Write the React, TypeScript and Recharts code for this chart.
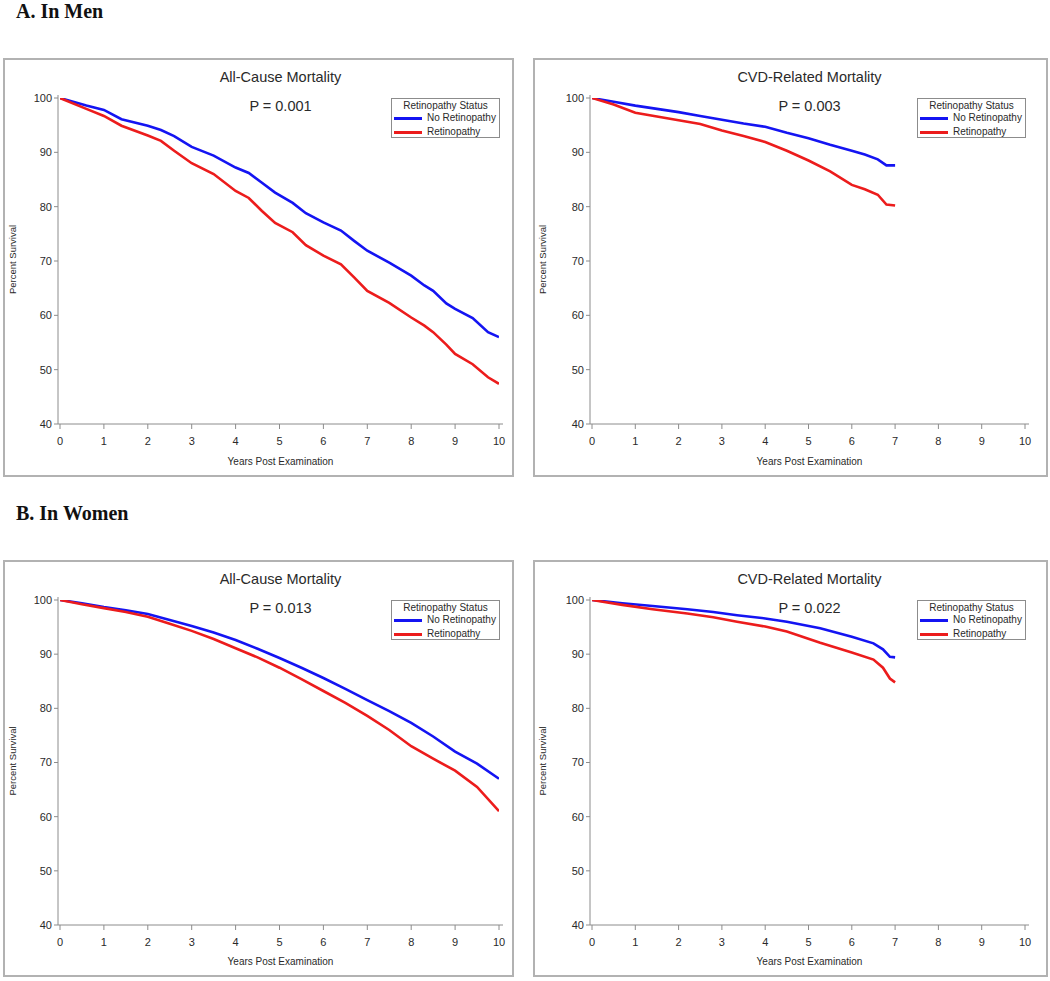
import React from 'react';
import { LineChart, Line, XAxis, YAxis } from 'recharts';

// ---------- data ----------
const xTicks = [0, 1, 2, 3, 4, 5, 6, 7, 8, 9, 10];
const yTicks = [40, 50, 60, 70, 80, 90, 100];

// A. Men – All-Cause Mortality
const menAllYears = [0, 0.6, 1, 1.4, 2, 2.3, 2.6, 3, 3.5, 4, 4.3, 4.6, 4.9, 5.3, 5.6, 6, 6.4, 6.7, 7, 7.5, 8, 8.3, 8.5, 8.8, 9, 9.4, 9.75, 10];
const menAllNoRet = [100, 98.6, 97.8, 96.1, 94.9, 94.1, 93.0, 91.0, 89.4, 87.2, 86.2, 84.4, 82.6, 80.7, 78.8, 77.1, 75.6, 73.7, 71.9, 69.7, 67.3, 65.5, 64.5, 62.2, 61.2, 59.5, 56.9, 56.0];
const menAllRet = [100, 98.0, 96.7, 94.9, 93.1, 92.1, 90.3, 88.0, 86.0, 82.9, 81.6, 79.2, 77.0, 75.3, 72.9, 71.0, 69.4, 67.0, 64.5, 62.3, 59.6, 58.1, 56.9, 54.6, 52.9, 51.0, 48.6, 47.4];

// A. Men – CVD-Related Mortality
const menCvdYears = [0, 0.5, 1, 1.5, 2, 2.5, 3, 3.5, 4, 4.5, 5, 5.5, 6, 6.3, 6.6, 6.8, 7];
const menCvdNoRet = [100, 99.3, 98.6, 98.0, 97.4, 96.7, 96.0, 95.3, 94.7, 93.6, 92.6, 91.4, 90.3, 89.6, 88.7, 87.6, 87.6];
const menCvdRet = [100, 98.8, 97.3, 96.6, 95.9, 95.2, 94.0, 93.0, 91.9, 90.3, 88.5, 86.5, 84.0, 83.2, 82.2, 80.4, 80.2];

// B. Women – All-Cause Mortality
const womenAllYears = [0, 0.5, 1, 1.5, 2, 2.5, 3, 3.5, 4, 4.5, 5, 5.5, 6, 6.5, 7, 7.5, 8, 8.5, 9, 9.5, 10];
const womenAllNoRet = [100, 99.4, 98.7, 98.1, 97.4, 96.3, 95.2, 94.0, 92.6, 91.0, 89.3, 87.5, 85.6, 83.6, 81.5, 79.5, 77.3, 74.8, 72.0, 69.8, 67.0];
const womenAllRet = [100, 99.2, 98.5, 97.8, 96.9, 95.6, 94.3, 92.8, 91.1, 89.4, 87.5, 85.4, 83.2, 81.0, 78.6, 76.0, 73.0, 70.7, 68.5, 65.5, 61.0];

// B. Women – CVD-Related Mortality
const womenCvdYears = [0, 0.7, 1.4, 2.2, 2.8, 3.35, 4, 4.5, 5.27, 6, 6.5, 6.72, 6.88, 7];
const womenCvdNoRet = [100, 99.4, 98.9, 98.3, 97.8, 97.2, 96.6, 96.0, 94.8, 93.2, 92.0, 90.9, 89.5, 89.4];
const womenCvdRet = [100, 99.1, 98.3, 97.5, 96.8, 96.0, 95.1, 94.2, 92.1, 90.3, 89.0, 87.5, 85.5, 84.8];

const seriesNames = ['No Retinopathy', 'Retinopathy'];
const legendTitle = 'Retinopathy Status';
const xLabel = 'Years Post Examination';
const yLabel = 'Percent Survival';

// ---------- styles ----------
const FONT = 'Arial, "Liberation Sans", Helvetica, sans-serif';
const BLUE = '#1414f2';
const RED = '#ec1c1c';
const AXIS = '#8c8c8c';
const TEXT = '#2a2a2a';

type PanelProps = {
  left: number; top: number; width: number; height: number;
  yw: number; mr: number; mt: number; xh: number;
  title: string; pValue: string;
  years: number[]; noRet: number[]; ret: number[];
};

function Panel(p: PanelProps) {
  const data = p.years.map((t, i) => ({ t, noRet: p.noRet[i], ret: p.ret[i] }));
  const plotLeft = p.yw;
  const plotRight = p.width - p.mr;
  const plotCenter = (plotLeft + plotRight) / 2;
  const plotMidY = p.mt + (p.height - p.mt - p.xh) / 2;
  const legW = 109;
  const legLeft = plotRight - 3 - legW;

  const yLabelRender = () => (
    <text
      x={9}
      y={plotMidY}
      transform={`rotate(-90 9 ${plotMidY})`}
      textAnchor="middle"
      dominantBaseline="central"
      fontSize={9.5}
      fontFamily={FONT}
      fill={TEXT}
    >
      {yLabel}
    </text>
  );

  return (
    <div style={{ position: 'absolute', left: p.left, top: p.top, width: p.width, height: p.height, background: '#fff' }}>
      <LineChart
        width={p.width}
        height={p.height}
        data={data}
        margin={{ top: p.mt, right: p.mr, bottom: 0, left: 0 }}
      >
        <XAxis
          dataKey="t"
          type="number"
          domain={[0, 10]}
          ticks={xTicks}
          interval={0}
          allowDataOverflow
          padding={{ left: 2, right: 4 }}
          height={p.xh}
          stroke={AXIS}
          tickSize={5}
          tickMargin={8}
          tick={{ fill: TEXT, fontSize: 11, fontFamily: FONT }}
          label={{ value: xLabel, position: 'insideBottom', offset: 12, fontSize: 10, fill: TEXT, fontFamily: FONT }}
        />
        <XAxis
          xAxisId="top"
          orientation="top"
          dataKey="t"
          type="number"
          domain={[0, 10]}
          allowDataOverflow
          height={0}
          tick={false}
          tickLine={false}
          stroke={AXIS}
        />
        <YAxis
          type="number"
          domain={[40, 100]}
          ticks={yTicks}
          interval={0}
          allowDataOverflow
          padding={{ top: 3, bottom: 0 }}
          width={p.yw}
          stroke={AXIS}
          tickSize={4}
          tickMargin={2}
          tick={{ fill: TEXT, fontSize: 11, fontFamily: FONT }}
          label={yLabelRender}
        />
        <YAxis
          yAxisId="right"
          orientation="right"
          type="number"
          domain={[40, 100]}
          width={0}
          tick={false}
          tickLine={false}
          stroke={AXIS}
        />
        <Line
          dataKey="noRet"
          name={seriesNames[0]}
          type="linear"
          stroke={BLUE}
          strokeWidth={2.6}
          dot={false}
          isAnimationActive={false}
        />
        <Line
          dataKey="ret"
          name={seriesNames[1]}
          type="linear"
          stroke={RED}
          strokeWidth={2.6}
          dot={false}
          isAnimationActive={false}
        />
      </LineChart>

      {/* outer panel border */}
      <div style={{ position: 'absolute', left: 0, top: 0, width: p.width, height: p.height, border: '2px solid #b2b2b2', boxSizing: 'border-box', pointerEvents: 'none' }} />

      {/* title */}
      <div style={{ position: 'absolute', left: plotCenter - 150, width: 300, top: 12, textAlign: 'center', fontFamily: FONT, fontSize: 14.5, lineHeight: '14.5px', color: TEXT }}>
        {p.title}
      </div>
      {/* p-value */}
      <div style={{ position: 'absolute', left: plotCenter - 100, width: 200, top: 41, textAlign: 'center', fontFamily: FONT, fontSize: 14.5, lineHeight: '14.5px', color: TEXT }}>
        {p.pValue}
      </div>

      {/* legend */}
      <div style={{ position: 'absolute', left: legLeft, top: 40, width: legW, height: 40, border: `1px solid ${AXIS}`, boxSizing: 'border-box', background: '#fff', fontFamily: FONT, fontSize: 10, color: TEXT }}>
        <div style={{ position: 'absolute', left: 0, width: legW - 2, top: 2, textAlign: 'center', lineHeight: '10px' }}>{legendTitle}</div>
        <div style={{ position: 'absolute', left: 2, top: 14, lineHeight: '10px', whiteSpace: 'nowrap' }}>
          <span style={{ display: 'inline-block', width: 28, height: 3, background: BLUE, verticalAlign: 'middle', marginRight: 5 }} />
          {seriesNames[0]}
        </div>
        <div style={{ position: 'absolute', left: 2, top: 28, lineHeight: '10px', whiteSpace: 'nowrap' }}>
          <span style={{ display: 'inline-block', width: 28, height: 3, background: RED, verticalAlign: 'middle', marginRight: 5 }} />
          {seriesNames[1]}
        </div>
      </div>
    </div>
  );
}

const headingStyle: React.CSSProperties = {
  position: 'absolute',
  left: 16,
  fontFamily: '"Liberation Serif", "Times New Roman", serif',
  fontWeight: 'bold',
  fontSize: 20,
  lineHeight: '20px',
  color: '#111',
  whiteSpace: 'nowrap',
};

export default function App() {
  return (
    <div style={{ position: 'absolute', left: 0, top: 0, width: 1050, height: 981, background: '#fff', overflow: 'hidden' }}>
      <div style={{ ...headingStyle, top: 1 }}>A. In Men</div>
      <div style={{ ...headingStyle, top: 503 }}>B. In Women</div>

      <Panel left={3} top={58} width={511} height={419} yw={55} mr={11} mt={37} xh={53}
        title="All-Cause Mortality" pValue="P = 0.001"
        years={menAllYears} noRet={menAllNoRet} ret={menAllRet} />
      <Panel left={533} top={58} width={515} height={419} yw={57} mr={19} mt={37} xh={53}
        title="CVD-Related Mortality" pValue="P = 0.003"
        years={menCvdYears} noRet={menCvdNoRet} ret={menCvdRet} />
      <Panel left={3} top={560} width={511} height={417} yw={55} mr={11} mt={37} xh={52}
        title="All-Cause Mortality" pValue="P = 0.013"
        years={womenAllYears} noRet={womenAllNoRet} ret={womenAllRet} />
      <Panel left={533} top={560} width={515} height={417} yw={57} mr={19} mt={37} xh={52}
        title="CVD-Related Mortality" pValue="P = 0.022"
        years={womenCvdYears} noRet={womenCvdNoRet} ret={womenCvdRet} />
    </div>
  );
}
